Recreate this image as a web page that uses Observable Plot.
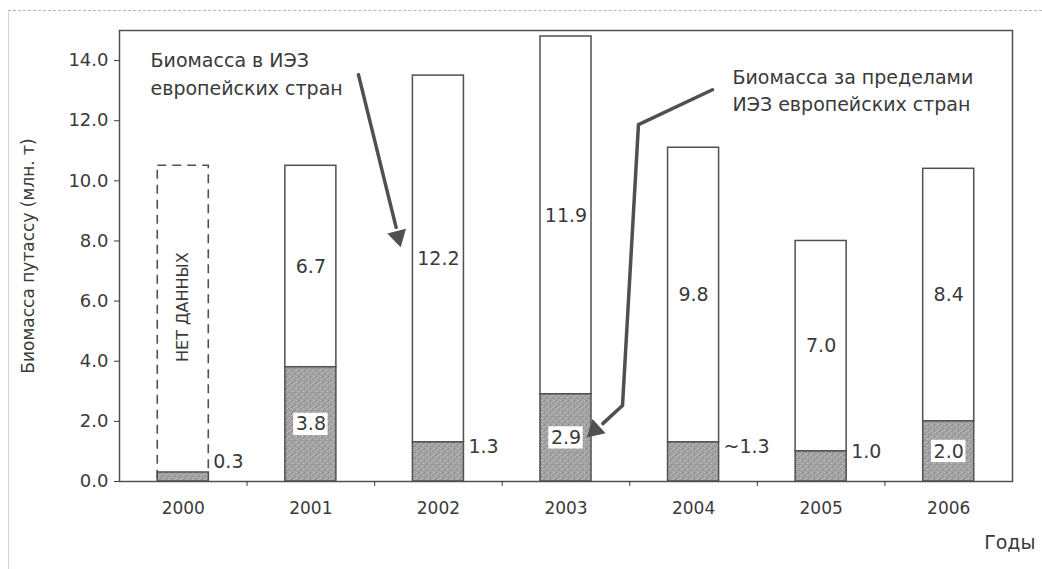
<!DOCTYPE html>
<html>
<head>
<meta charset="utf-8">
<script src="https://cdn.jsdelivr.net/npm/d3@7"></script>
<script src="https://cdn.jsdelivr.net/npm/@observablehq/plot@0.6"></script>
<style>
  body { margin: 0; background: #fff; }
  #wrap { position: relative; width: 1042px; height: 569px; }
  #sheet { position: absolute; left: 8px; top: 10px; right: 0; bottom: 0;
           border-top: 1px dashed #b5b5b5; border-left: 1px solid #d2d2d2; pointer-events: none; }
</style>
</head>
<body>
<div id="wrap"><div id="sheet"></div></div>
<script>
// Blue whiting biomass (million tonnes) by year
const years = [2000, 2001, 2002, 2003, 2004, 2005, 2006];
// biomass outside the EEZ of European countries (lower segment)
const outsideEEZ = [0.3, 3.8, 1.3, 2.9, 1.3, 1.0, 2.0];
// biomass inside the EEZ of European countries (upper segment); no data for 2000
const insideEEZ = [null, 6.7, 12.2, 11.9, 9.8, 7.0, 8.4];
const outsideText = ["0.3", "3.8", "1.3", "2.9", "~1.3", "1.0", "2.0"];
const outsideBoxed = [false, true, false, true, false, false, true];
// height of the placeholder box for the year without data
const noDataTop = 10.5;
const yTicks = [0, 2, 4, 6, 8, 10, 12, 14];

const rows = years.map((year, i) => ({
  year,
  outside: outsideEEZ[i],
  inside: insideEEZ[i],
  text: outsideText[i],
  boxed: outsideBoxed[i]
}));
const withInside = rows.filter(d => d.inside != null);
const boxed = rows.filter(d => d.boxed);
const beside = rows.filter(d => !d.boxed);

const half = 0.2;      // half bar width, in years
const ink = "#505050";
const textInk = "#3a3a3a";

// speckled grey fill for the lower segments
const specks = [[0,0,"#8a8a8a"],[3,1,"#c4c4c4"],[1,2,"#7e7e7e"],[5,2,"#909090"],[2,4,"#c8c8c8"],
                [4,4,"#808080"],[0,5,"#bdbdbd"],[3,5,"#8c8c8c"],[5,0,"#bcbcbc"],[1,3,"#b8b8b8"]];
function stippleDefs() {
  const defs = d3.create("svg:defs");
  const p = defs.append("pattern").attr("id", "stipple")
    .attr("patternUnits", "userSpaceOnUse").attr("width", 6).attr("height", 6);
  p.append("rect").attr("width", 6).attr("height", 6).attr("fill", "#a3a3a3");
  for (const [x, y, c] of specks)
    p.append("rect").attr("x", x).attr("y", y).attr("width", 1).attr("height", 1).attr("fill", c);
  return defs.node();
}

// annotation arrows (data coordinates); heads are filled triangles at the tips
const arrowIn = {x1: 2001.373, y1: 13.53, x2: 2001.687, y2: 8.13};
const arrowOutPath = [[2004.148, 13.03], [2003.568, 11.87], [2003.443, 2.53]];
const arrowOutLast = {x1: 2003.443, y1: 2.53, x2: 2003.231, y2: 1.70};
const heads = [
  {x: arrowIn.x2, y: arrowIn.y2, angle: 166, dx: -2.2, dy: -8.9},
  {x: arrowOutLast.x2, y: arrowOutLast.y2, angle: 227, dx: 6.7, dy: -6.3}
];

const font = "'DejaVu Sans', 'Liberation Sans', Arial, sans-serif";

const chart = Plot.plot({
  width: 1042,
  height: 569,
  marginTop: 30,
  marginBottom: 88,
  marginLeft: 119,
  marginRight: 30,
  style: {fontFamily: font, fontSize: "17px", color: textInk, background: "transparent"},
  x: {type: "linear", domain: [1999.5, 2006.5]},
  y: {domain: [0, 15]},
  marks: [
    stippleDefs,
    // placeholder box for the year with no data
    Plot.rect(rows.filter(d => d.inside == null), {
      x1: d => d.year - half, x2: d => d.year + half, y1: 0, y2: noDataTop,
      fill: "none", stroke: ink, strokeWidth: 1.6, strokeDasharray: "9,6"
    }),
    Plot.text(rows.filter(d => d.inside == null), {
      x: "year", y: d => (d.outside + noDataTop) / 2, dy: -12, text: () => "НЕТ ДАННЫХ",
      rotate: -90, fontSize: 16, fill: textInk
    }),
    // upper segments: inside EEZ
    Plot.rect(withInside, {
      x1: d => d.year - half, x2: d => d.year + half,
      y1: "outside", y2: d => d.outside + d.inside,
      fill: "white", stroke: ink, strokeWidth: 1.5
    }),
    // lower segments: outside EEZ
    Plot.rect(rows, {
      x1: d => d.year - half, x2: d => d.year + half, y1: 0, y2: "outside",
      fill: "url(#stipple)", stroke: ink, strokeWidth: 1.5
    }),
    Plot.frame({stroke: ink, strokeWidth: 1.5}),
    Plot.axisY({
      ticks: yTicks, tickFormat: d3.format(".1f"), tickSize: 5, tickPadding: 6,
      label: null, fontSize: 18
    }),
    Plot.text(["Биомасса путассу (млн. т)"], {
      frameAnchor: "left", textAnchor: "middle", text: d => d, rotate: -90, dx: -91,
      fontSize: 17, fill: textInk
    }),
    // boundary ticks between years
    Plot.axisX({
      ticks: years.slice(1).map(y => y - 0.5), tickFormat: () => "", tickSize: 5, label: null
    }),
    Plot.axisX({
      ticks: years, tickFormat: d => String(d), tickSize: 0, tickPadding: 20, label: null, fontSize: 17
    }),
    // values of the upper segments
    Plot.text(withInside, {
      x: "year", y: d => d.outside + d.inside / 2, text: d => d.inside.toFixed(1),
      fontSize: 19, fill: textInk
    }),
    // values of the lower segments
    Plot.rect(boxed, {
      x1: d => d.year - 0.135, x2: d => d.year + 0.135,
      y1: d => d.outside / 2 - 0.37, y2: d => d.outside / 2 + 0.37, fill: "white"
    }),
    Plot.text(boxed, {x: "year", y: d => d.outside / 2, text: "text", fontSize: 19, fill: textInk}),
    Plot.text(beside, {
      x: "year", y: d => d.outside / 2 + 0.5, dx: 30, text: "text",
      textAnchor: "start", fontSize: 19, fill: textInk
    }),
    // annotations
    Plot.text(["Биомасса в ИЭЗ\nевропейских стран"], {
      x: 1999.743, y: 13.62, text: d => d, textAnchor: "start", lineHeight: 1.45, fontSize: 19, fill: textInk
    }),
    Plot.text(["Биомасса за пределами\nИЭЗ европейских стран"], {
      x: 2004.305, y: 13.07, text: d => d, textAnchor: "start", lineHeight: 1.45, fontSize: 19, fill: textInk
    }),
    Plot.arrow([arrowIn], {
      x1: "x1", y1: "y1", x2: "x2", y2: "y2", stroke: ink, strokeWidth: 3.5, headLength: 0, insetEnd: 10
    }),
    Plot.line(arrowOutPath, {x: d => d[0], y: d => d[1], stroke: ink, strokeWidth: 3.5}),
    Plot.arrow([arrowOutLast], {
      x1: "x1", y1: "y1", x2: "x2", y2: "y2", stroke: ink, strokeWidth: 3.5, headLength: 0, insetEnd: 10
    }),
    Plot.dot(heads, {
      x: "x", y: "y", dx: "dx", dy: "dy", rotate: "angle", symbol: "triangle", r: 6.5,
      fill: ink, stroke: ink, strokeWidth: 1
    }),
    Plot.text(["Годы"], {
      frameAnchor: "bottom-right", text: d => d, dx: 23, dy: 67, textAnchor: "end", fontSize: 19, fill: textInk
    })
  ]
});

document.getElementById("wrap").prepend(chart);
</script>
</body>
</html>
